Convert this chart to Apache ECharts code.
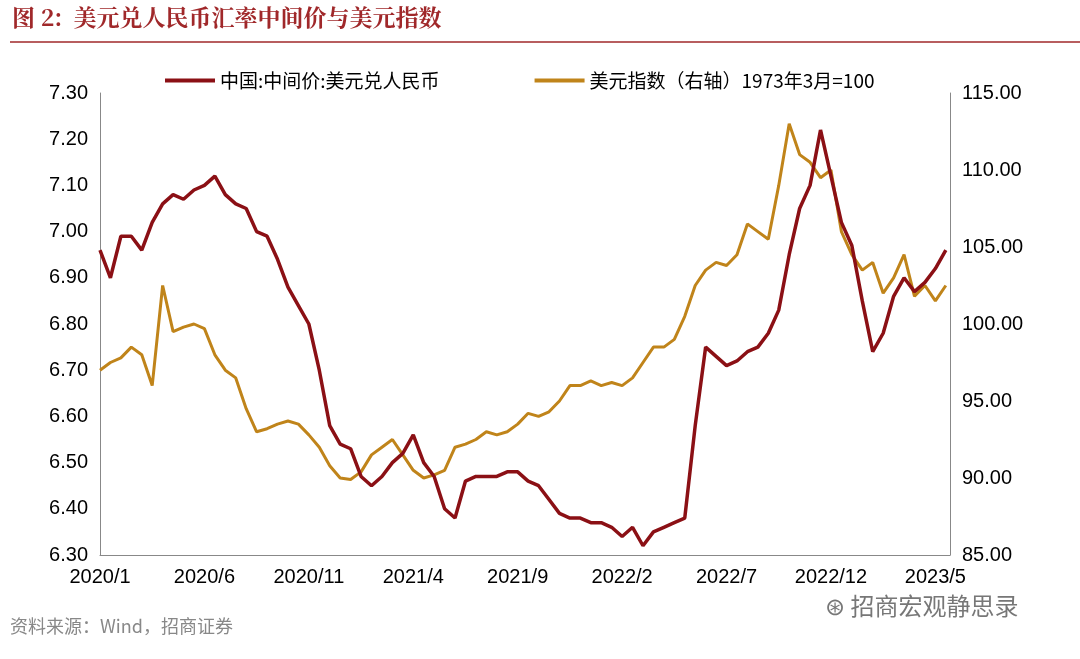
<!DOCTYPE html>
<html><head><meta charset="utf-8">
<script src="https://cdn.jsdelivr.net/npm/echarts@6/dist/echarts.min.js"></script>
<style>body{margin:0;background:#fff}</style>
</head><body>
<div id="chart1" style="width:1080px;height:659px"></div>
<script>
	// month index from 2020/1, two points per month
	const monthIdx = [];
	for (let i = 0; i < 82; i++) monthIdx.push(i / 2);

	const cny = [
		6.96, 6.90, 6.99, 6.99, 6.96, 7.02, 7.06, 7.08, 7.07, 7.09,
		7.10, 7.12, 7.08, 7.06, 7.05, 7.00, 6.99, 6.94, 6.88, 6.84,
		6.80, 6.70, 6.58, 6.54, 6.53, 6.47, 6.45, 6.47, 6.50, 6.52,
		6.56, 6.50, 6.47, 6.40, 6.38, 6.46, 6.47, 6.47, 6.47, 6.48,
		6.48, 6.46, 6.45, 6.42, 6.39, 6.38, 6.38, 6.37, 6.37, 6.36,
		6.34, 6.36, 6.32, 6.35, 6.36, 6.37, 6.38, 6.58, 6.75, 6.73,
		6.71, 6.72, 6.74, 6.75, 6.78, 6.83, 6.95, 7.05, 7.10, 7.22,
		7.12, 7.02, 6.97, 6.85, 6.74, 6.78, 6.86, 6.90, 6.87, 6.89,
		6.92, 6.96
	];
	const dxy = [
		97.0, 97.5, 97.8, 98.5, 98.0, 96.0, 102.5, 99.5, 99.8, 100.0,
		99.7, 98.0, 97.0, 96.5, 94.5, 93.0, 93.2, 93.5, 93.7, 93.5,
		92.8, 92.0, 90.8, 90.0, 89.9, 90.4, 91.5, 92.0, 92.5, 91.5,
		90.5, 90.0, 90.2, 90.5, 92.0, 92.2, 92.5, 93.0, 92.8, 93.0,
		93.5, 94.2, 94.0, 94.3, 95.0, 96.0, 96.0, 96.3, 96.0, 96.2,
		96.0, 96.5, 97.5, 98.5, 98.5, 99.0, 100.5, 102.5, 103.5, 104.0,
		103.8, 104.5, 106.5, 106.0, 105.5, 109.0, 113.0, 111.0, 110.5, 109.5,
		110.0, 106.0, 104.5, 103.5, 104.0, 102.0, 103.0, 104.5, 101.8, 102.5,
		101.5, 102.5
	];
	const xLabels = {0: '2020/1', 5: '2020/6', 10: '2020/11', 15: '2021/4', 20: '2021/9',
		25: '2022/2', 30: '2022/7', 35: '2022/12', 40: '2023/5'};
	const leftTicks = [6.30, 7.30, 0.10];
	const rightTicks = [85, 115, 5];

	const chart1 = echarts.init(document.getElementById('chart1'));
	const axisFont = {fontFamily: 'Liberation Sans', fontSize: 20, color: '#000'};
	chart1.setOption({
		animation: false,
		graphic: [
			{type: 'text', left: 12, top: 6, style: {text: '图 2:  美元兑人民币汇率中间价与美元指数',
				font: 'bold 23px "Noto Serif CJK SC", "Noto Sans CJK SC", serif', fill: '#A0282A'}},
			{type: 'line', shape: {x1: 10, y1: 42, x2: 1080, y2: 42}, style: {stroke: '#A0282A', lineWidth: 1.5}},
			{type: 'text', left: 10, top: 617, style: {text: '资料来源：Wind，招商证券',
				font: '18px "Noto Sans CJK SC", serif', fill: '#888'}},
			{type: 'text', left: 825, top: 594, style: {text: '⊛ 招商宏观静思录',
				font: '24px "Noto Sans CJK SC"', fill: '#777'}}
		],
		legend: {
			top: 66, left: 160, itemGap: 95, itemWidth: 50, itemHeight: 4,
			textStyle: {fontFamily: '"Noto Sans CJK SC"', fontSize: 19, color: '#000'},
			data: [{name: '中国:中间价:美元兑人民币', icon: 'rect'}, {name: '美元指数（右轴）1973年3月=100', icon: 'rect'}]
		},
		grid: {left: 100, right: 130, top: 93, bottom: 104},
		xAxis: {
			type: 'value', min: 0, max: 40.7, interval: 5,
			axisLine: {lineStyle: {color: '#888'}}, axisTick: {show: false}, splitLine: {show: false},
			axisLabel: Object.assign({margin: 12, formatter: v => xLabels[v] || '', showMaxLabel: false}, axisFont)
		},
		yAxis: [
			{type: 'value', min: leftTicks[0], max: leftTicks[1], interval: leftTicks[2],
				axisLine: {show: true, lineStyle: {color: '#888'}}, axisTick: {show: false}, splitLine: {show: false},
				axisLabel: Object.assign({margin: 12, formatter: v => v.toFixed(2)}, axisFont)},
			{type: 'value', min: rightTicks[0], max: rightTicks[1], interval: rightTicks[2],
				axisLine: {show: true, lineStyle: {color: '#888'}}, axisTick: {show: false}, splitLine: {show: false},
				axisLabel: Object.assign({margin: 12, formatter: v => v.toFixed(2)}, axisFont)}
		],
		series: [
			{name: '中国:中间价:美元兑人民币', type: 'line', yAxisIndex: 0, showSymbol: false,
				color: '#8B1015', lineStyle: {width: 3.5}, z: 3,
				data: monthIdx.map((t, i) => [t, cny[i]])},
			{name: '美元指数（右轴）1973年3月=100', type: 'line', yAxisIndex: 1, showSymbol: false,
				color: '#C0841A', lineStyle: {width: 3}, z: 2,
				data: monthIdx.map((t, i) => [t, dxy[i]])}
		]
	});
</script>
</body></html>
